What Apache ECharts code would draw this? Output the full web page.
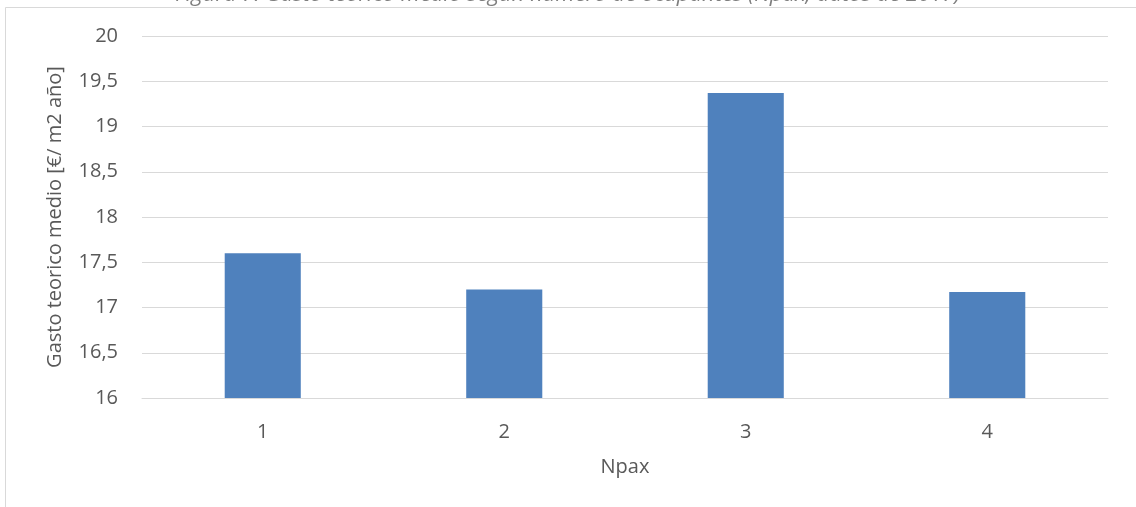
<!DOCTYPE html>
<html>
<head>
<meta charset="utf-8">
<script src="https://cdn.jsdelivr.net/npm/echarts@6/dist/echarts.min.js"></script>
<style>
  html, body { margin: 0; padding: 0; background: #ffffff; }
  #chart { width: 1136px; height: 507px; }
</style>
</head>
<body>
<div id="chart"></div>
<script>
// Npax categories and mean theoretical expense per category
const categories = ['1', '2', '3', '4'];
const gastoMedio = [17.6, 17.2, 19.37, 17.17];
const yTicks = { min: 16, max: 20, interval: 0.5 };

const FONT = '"Open Sans", "Noto Sans", sans-serif';
const TEXT = '#595959';

const chart = echarts.init(document.getElementById('chart'), null, { renderer: 'canvas' });
chart.setOption({
  animation: false,
  backgroundColor: '#ffffff',
  title: {
    text: 'Figura 7: Gasto teorico medio según número de ocupantes (Npax, datos de 2017)',
    left: 'center',
    top: -21,
    textStyle: { fontFamily: FONT, fontStyle: 'italic', fontWeight: 'normal', fontSize: 22, color: '#7f7f7f' }
  },
  graphic: [{
    type: 'rect',
    shape: { x: 5.5, y: 7.5, width: 1200, height: 600 },
    style: { fill: 'none', stroke: '#d9d9d9', lineWidth: 1 },
    z: -1
  }],
  grid: { left: 142, right: 28, top: 36, bottom: 109, containLabel: false },
  xAxis: {
    type: 'category',
    data: categories,
    name: 'Npax',
    nameLocation: 'middle',
    nameGap: 59,
    nameTextStyle: { fontFamily: FONT, fontSize: 20, color: TEXT },
    axisLine: { show: true, lineStyle: { color: '#d9d9d9', width: 1 } },
    axisTick: { show: false },
    axisLabel: { fontFamily: FONT, fontSize: 20, color: TEXT, margin: 24 }
  },
  yAxis: {
    type: 'value',
    min: yTicks.min,
    max: yTicks.max,
    interval: yTicks.interval,
    name: 'Gasto teorico medio [€/ m2 año]',
    nameLocation: 'middle',
    nameRotate: 90,
    nameGap: 77,
    nameTextStyle: { fontFamily: FONT, fontSize: 20, color: TEXT },
    axisLine: { show: false },
    axisTick: { show: false },
    axisLabel: {
      fontFamily: FONT, fontSize: 20, color: TEXT, margin: 24,
      formatter: v => String(v).replace('.', ',')
    },
    splitLine: { show: true, lineStyle: { color: '#d9d9d9', width: 1 } }
  },
  series: [{
    type: 'bar',
    data: gastoMedio,
    barWidth: '31.5%',
    itemStyle: { color: '#4f81bd' }
  }]
});
</script>
</body>
</html>
